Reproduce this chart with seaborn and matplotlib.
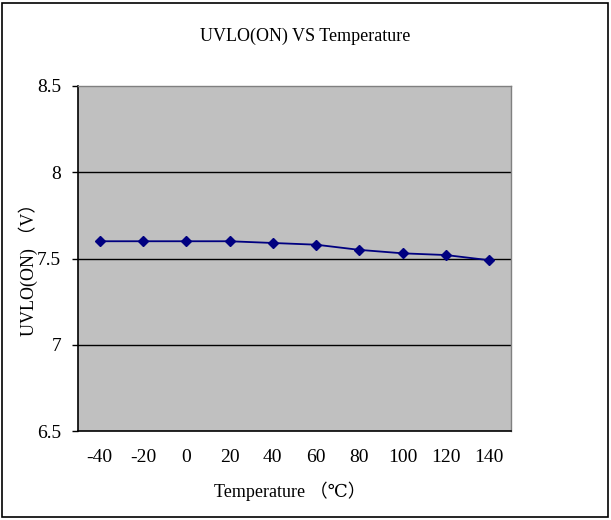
import matplotlib
matplotlib.use('Agg')
import matplotlib.pyplot as plt
import seaborn as sns
import pandas as pd
from matplotlib.patches import Rectangle

# dados
temperatura = ['-40', '-20', '0', '20', '40', '60', '80', '100', '120', '140']
uvlo_on = [7.60, 7.60, 7.60, 7.60, 7.59, 7.58, 7.55, 7.53, 7.52, 7.49]
y_ticks = [6.5, 7, 7.5, 8, 8.5]
y_labels = ['6.5', '7', '7.5', '8', '8.5']

sns.set_style('white')
fonte = ['Liberation Serif', 'DejaVu Serif', 'Noto Sans CJK SC']
plt.rcParams['font.family'] = fonte
plt.rcParams['text.color'] = 'black'
plt.rcParams['axes.labelcolor'] = 'black'
plt.rcParams['xtick.color'] = 'black'
plt.rcParams['ytick.color'] = 'black'

df = pd.DataFrame({'temp': temperatura, 'v': uvlo_on})

fig = plt.figure(figsize=(6.11, 5.20), dpi=100)
ax = fig.add_axes([78/611, 1-431/520, (511-78)/611, (431-86)/520])
ax.set_facecolor('#C0C0C0')

sns.pointplot(data=df, x='temp', y='v', color='#000080', markers='D',
              linewidth=1.3, markersize=5, ax=ax)

ax.set_xlim(-0.5, len(temperatura) - 0.5)
ax.set_ylim(6.5, 8.5)
ax.set_yticks(y_ticks)
ax.set_yticklabels(y_labels, fontsize=14)
for yv in [7, 7.5, 8]:
    ax.axhline(yv, color='black', lw=1, zorder=0.5)

# ticks do eixo x nas fronteiras das categorias
ax.set_xticks([i + 0.5 for i in range(len(temperatura) - 1)])
ax.set_xticklabels([])
ax.set_xticks(range(len(temperatura)), minor=True)
ax.set_xticklabels(temperatura, minor=True, fontsize=14)
ax.tick_params(axis='x', which='major', direction='in', length=5, width=1, color='black')
ax.tick_params(axis='x', which='minor', length=0, pad=13)
ax.tick_params(axis='y', direction='out', length=4, width=1, color='black', pad=8, left=True)

for s in ['left', 'bottom']:
    ax.spines[s].set_color('black')
    ax.spines[s].set_linewidth(1.2)
for s in ['top', 'right']:
    ax.spines[s].set_color('#808080')
    ax.spines[s].set_linewidth(1)

ax.set_xlabel('Temperature （℃）', fontsize=13, va='center')
ax.set_ylabel('UVLO(ON) （V）', fontsize=13, va='center')
ax.xaxis.set_label_coords(0.49, -0.174)
ax.yaxis.set_label_coords(-0.115, 0.48)
fig.text(0.5, 1-36/520, 'UVLO(ON) VS Temperature', ha='center', va='center', fontsize=13)

fig.patches.append(Rectangle((2/611, 3/520), 606/611, 514/520, transform=fig.transFigure,
                             fill=False, edgecolor='black', lw=1.2))

fig.savefig('out.png', dpi=100)
